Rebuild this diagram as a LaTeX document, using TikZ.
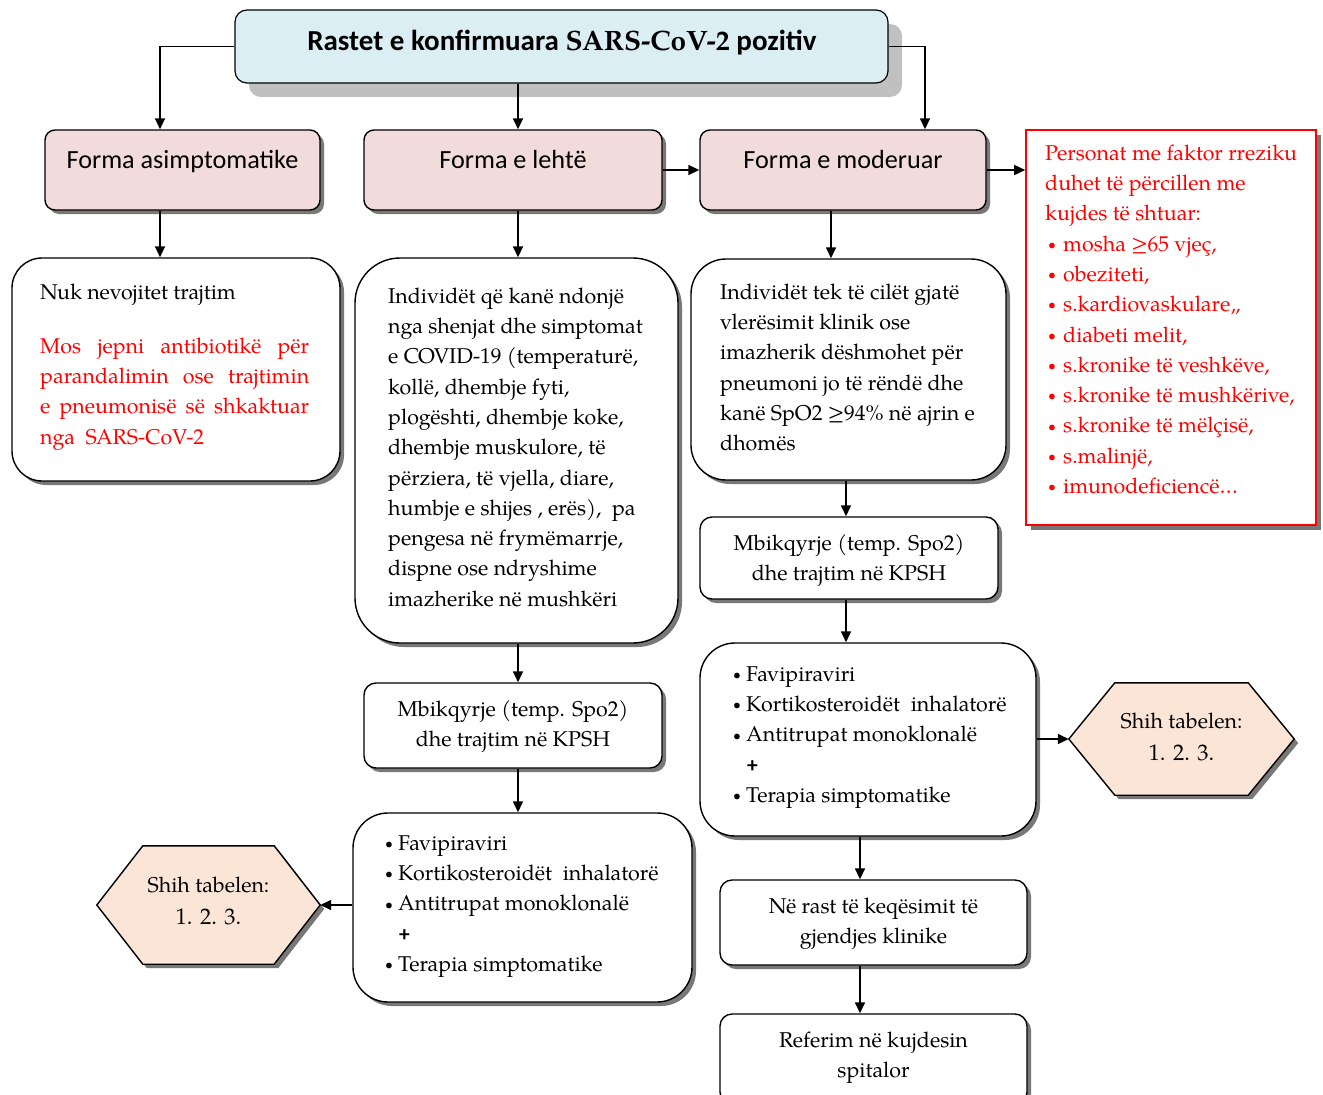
\documentclass[tikz,border=0pt]{standalone}
\usepackage{fontspec}
\setmainfont{texgyrepagella}[Extension=.otf,UprightFont=*-regular,BoldFont=*-bold,ItalicFont=*-italic,BoldItalicFont=*-bolditalic]
\newfontfamily\hd{Carlito}
\usetikzlibrary{arrows.meta,shadows}
\definecolor{titlefill}{RGB}{219,238,243}
\definecolor{headfill}{RGB}{242,220,219}
\definecolor{hexfill}{RGB}{251,229,214}
\definecolor{shadowgray}{RGB}{120,120,120}
\definecolor{titleshadow}{RGB}{192,192,192}
\newcommand\fl{\rule{0pt}{16pt}}
\newcommand\smb{\raisebox{1.8pt}{\fontsize{14}{14}\selectfont •}}
\newcommand\bl{\makebox[13pt][l]{\smb}}
\newcommand\rbl{\hspace*{3pt}\makebox[15pt][l]{\smb}}
\begin{document}
\begin{tikzpicture}[x=1pt,y=-1pt,
  sh/.style={drop shadow={shadow xshift=4pt,shadow yshift=-4pt,fill=shadowgray,opacity=1}},
  box/.style={draw=black,line width=1.4pt,fill=white,sh,inner sep=0pt},
  head/.style={box,fill=headfill,rounded corners=10pt},
  wsz/.style 2 args={minimum width=#1pt,minimum height=#2pt},
  txt/.style={inner sep=0pt,font=\fontsize{21.4}{30.3}\selectfont},
  htxt/.style={inner sep=0pt,font=\hd\fontsize{26.2}{30}\selectfont,anchor=base},
  arr/.style={line width=1.5pt,-{Triangle[length=11pt,width=10pt]}},
  hexa/.style={draw=none,inner sep=0pt},
  hexline/.style={draw=black,line width=1.4pt,fill=hexfill,sh}
]
\useasboundingbox (0,0) rectangle (1323,1095);
\fill[white] (0,0) rectangle (1323,1095);

% ---- boxes ----
\node[draw=black,line width=1.2pt,fill=titlefill,rounded corners=12pt,inner sep=0pt,wsz={653}{73},
  drop shadow={shadow xshift=14pt,shadow yshift=-14pt,fill=titleshadow,opacity=1}] (title) at (561.5,46.5) {};
\node[head,wsz={275}{80}] (asym) at (182.5,170) {};
\node[head,wsz={298}{80}] (leh) at (513,170) {};
\node[head,wsz={286}{80}] (mod) at (843,170) {};
\node[draw=red,line width=1.6pt,fill=white,inner sep=0pt,wsz={290}{395},
  drop shadow={shadow xshift=5pt,shadow yshift=-5pt,fill=shadowgray,opacity=1}] (risk) at (1171,327.5) {};

\node[box,rounded corners=30pt,wsz={328}{223}] (nuk) at (176,369.5) {};
\node[box,rounded corners=45pt,wsz={323}{385}] (indL) at (516.5,450.5) {};
\node[box,rounded corners=12pt,wsz={298}{85}] (mbL) at (513,725.5) {};
\node[box,rounded corners=35pt,wsz={339}{189}] (favL) at (522.5,907.5) {};
\node[hexa,wsz={223}{118}] (hexL) at (208.5,905) {};
\draw[hexline] (hexL.west) -- ([xshift=46pt]hexL.north west) -- ([xshift=-46pt]hexL.north east)
  -- (hexL.east) -- ([xshift=-46pt]hexL.south east) -- ([xshift=46pt]hexL.south west) -- cycle;

\node[box,rounded corners=35pt,wsz={315}{221}] (indR) at (848.5,369.5) {};
\node[box,rounded corners=12pt,wsz={298}{82}] (mbR) at (849,558) {};
\node[box,rounded corners=35pt,wsz={336}{193}] (favR) at (868,739.5) {};
\node[hexa,wsz={225}{112}] (hexR) at (1181.5,739) {};
\draw[hexline] (hexR.west) -- ([xshift=46pt]hexR.north west) -- ([xshift=-46pt]hexR.north east)
  -- (hexR.east) -- ([xshift=-46pt]hexR.south east) -- ([xshift=46pt]hexR.south west) -- cycle;
\node[box,rounded corners=12pt,wsz={307}{85}] (rast) at (873.5,922.5) {};
\node[box,rounded corners=12pt,wsz={307}{90}] (ref) at (873.5,1059) {};

% ---- connectors ----
\draw[arr] (title.west) -| ([xshift=-22.5pt]asym.north);
\draw[arr] (title.east) -| ([xshift=82pt]mod.north);
\draw[arr] ([xshift=5pt]leh.north |- title.south) -- ([xshift=5pt]leh.north);
\draw[arr] (leh.east) -- (mod.west);
\draw[arr] (mod.east) -- (mod.east -| risk.west);
\draw[arr] ([xshift=-22.5pt]asym.south) -- ([xshift=-22.5pt]asym.south |- nuk.north);
\draw[arr] ([xshift=5pt]leh.south) -- ([xshift=5pt]leh.south |- indL.north);
\draw[arr] ([xshift=1.5pt]indL.south) -- ([xshift=1.5pt]indL.south |- mbL.north);
\draw[arr] ([xshift=5pt]mbL.south) -- ([xshift=5pt]mbL.south |- favL.north);
\draw[arr] (favL.west |- hexL.east) -- (hexL.east);
\draw[arr] ([xshift=-12pt]mod.south) -- ([xshift=-12pt]mod.south |- indR.north);
\draw[arr] ([xshift=-2.5pt]indR.south) -- ([xshift=-2.5pt]indR.south |- mbR.north);
\draw[arr] ([xshift=-3pt]mbR.south) -- ([xshift=-3pt]mbR.south |- favR.north);
\draw[arr] (favR.east |- hexR.west) -- (hexR.west);
\draw[arr] ([xshift=-8pt]favR.south) -- ([xshift=-8pt]favR.south |- rast.north);
\draw[arr] ([xshift=-13.5pt]rast.south) -- ([xshift=-13.5pt]rast.south |- ref.north);

% ---- texts ----
\node[inner sep=0pt,anchor=base,font=\hd\bfseries\fontsize{29}{30}\selectfont] (tTitle) at (562,50)
  {Rastet e konfirmuara {\rmfamily\bfseries\fontsize{28}{30}\selectfont SARS-CoV-2} pozitiv};
\node[htxt] (tAsym) at (182.5,168) {Forma asimptomatike};
\node[htxt] (tLeh) at (513,168) {Forma e lehtë};
\node[htxt] (tMod) at (843,168) {Forma e moderuar};

\node[txt,red,anchor=north west,align=left] (tRisk) at (1045,144) {\fl Personat me faktor rreziku\\
duhet të përcillen me\\ kujdes të shtuar:\\
\rbl mosha ≥65 vjeç,\\ \rbl obeziteti,\\ \rbl s.kardiovaskulare,,\\ \rbl diabeti melit,\\
\rbl s.kronike të veshkëve,\\ \rbl s.kronike të mushkërive,\\ \rbl s.kronike të mëlçisë,\\
\rbl s.malinjë,\\ \rbl imunodeficiencë…};

\node[txt,anchor=north west,align=left] (tNuk) at (40,283) {\fl Nuk nevojitet trajtim};
\node[txt,red,anchor=north west,align=left] (tNukRed) at (40,337) {\fl\makebox[269pt][s]{Mos jepni antibiotikë për}\\
\makebox[269pt][s]{parandalimin ose trajtimin}\\ \makebox[269pt][s]{e pneumonisë së shkaktuar}\\ nga\ \ SARS-CoV-2};

\node[txt,anchor=north west,align=left] (tIndL) at (388,287) {\fl Individët që kanë ndonjë\\
nga shenjat dhe simptomat\\ e COVID-19 (temperaturë,\\ kollë, dhembje fyti,\\
plogështi, dhembje koke,\\ dhembje muskulore, të\\ përziera, të vjella, diare,\\
humbje e shijes , erës),\ \ pa\\ pengesa në frymëmarrje,\\ dispne ose ndryshime\\
imazherike në mushkëri};

\node[txt,anchor=north,align=center] (tMbL) at (513,700) {\fl Mbikqyrje (temp. Spo2)\\ dhe trajtim në KPSH};
\node[txt,anchor=north west,align=left] (tFavL) at (385,834) {\fl\bl Favipiraviri\\
\bl Kortikosteroidët\ \ inhalatorë\\ \bl Antitrupat monoklonalë\\
\hspace*{14pt}{\hd\bfseries +}\\ \bl Terapia simptomatike};
\node[txt,anchor=north,align=center] (tHexL) at (208.5,876) {\fl Shih tabelen:\\[1.7pt] {\fontsize{22.5}{30}\selectfont 1. 2. 3.}};

\node[txt,anchor=north west,align=left] (tIndR) at (720,283) {\fl Individët tek të cilët gjatë\\
vlerësimit klinik ose\\ imazherik dëshmohet për\\ pneumoni jo të rëndë dhe\\
kanë SpO2 ≥94\% në ajrin e\\ dhomës};
\node[txt,anchor=north,align=center] (tMbR) at (849,534) {\fl Mbikqyrje (temp. Spo2)\\ dhe trajtim në KPSH};
\node[txt,anchor=north west,align=left] (tFavR) at (733,665) {\fl\bl Favipiraviri\\
\bl Kortikosteroidët\ \ inhalatorë\\ \bl Antitrupat monoklonalë\\
\hspace*{14pt}{\hd\bfseries +}\\ \bl Terapia simptomatike};
\node[txt,anchor=north,align=center] (tHexR) at (1181.5,712) {\fl Shih tabelen:\\[1.7pt] {\fontsize{22.5}{30}\selectfont 1. 2. 3.}};
\node[txt,anchor=north,align=center] (tRast) at (873.5,897) {\fl Në rast të keqësimit të\\ gjendjes klinike};
\node[txt,anchor=north,align=center] (tRef) at (873.5,1031) {\fl Referim në kujdesin\\ spitalor};
\end{tikzpicture}
\end{document}
